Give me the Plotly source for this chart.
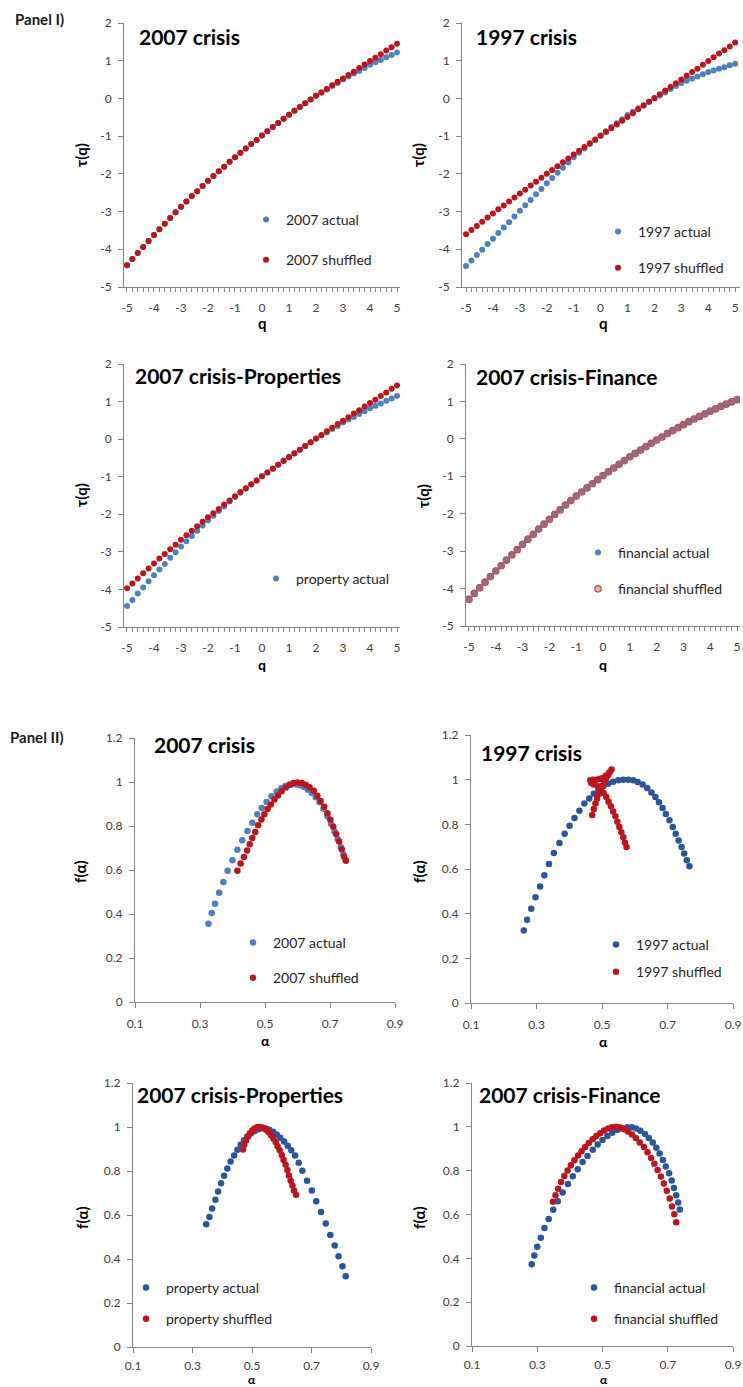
import plotly.graph_objects as go

W, H = 743, 1387

# ---------------- Panel I data: tau(q) ----------------
q = [-5, -4.8, -4.6, -4.4, -4.2, -4, -3.8, -3.6, -3.4, -3.2, -3, -2.8, -2.6, -2.4, -2.2,
     -2, -1.8, -1.6, -1.4, -1.2, -1, -0.8, -0.6, -0.4, -0.2, 0, 0.2, 0.4, 0.6, 0.8,
     1, 1.2, 1.4, 1.6, 1.8, 2, 2.2, 2.4, 2.6, 2.8, 3, 3.2, 3.4, 3.6, 3.8, 4, 4.2, 4.4,
     4.6, 4.8, 5]
q_ticks = [-5, -4, -3, -2, -1, 0, 1, 2, 3, 4, 5]
tau_ticks = [-5, -4, -3, -2, -1, 0, 1, 2]

tau_2007_actual = [-4.42, -4.26, -4.10, -3.94, -3.78, -3.62, -3.47, -3.32, -3.17, -3.02, -2.87,
                   -2.73, -2.59, -2.46, -2.32, -2.18, -2.06, -1.93, -1.81, -1.68, -1.56,
                   -1.44, -1.33, -1.21, -1.10, -0.98, -0.87, -0.76, -0.65, -0.54, -0.43,
                   -0.33, -0.23, -0.13, -0.03, 0.07, 0.16, 0.24, 0.33, 0.41, 0.50,
                   0.58, 0.66, 0.73, 0.81, 0.89, 0.96, 1.02, 1.09, 1.15, 1.22]
tau_2007_shuffled = [-4.42, -4.26, -4.10, -3.94, -3.78, -3.62, -3.47, -3.32, -3.17, -3.02, -2.87,
                     -2.73, -2.59, -2.46, -2.32, -2.18, -2.06, -1.93, -1.81, -1.68, -1.56,
                     -1.44, -1.33, -1.21, -1.10, -0.98, -0.87, -0.76, -0.65, -0.54, -0.43,
                     -0.33, -0.23, -0.13, -0.03, 0.07, 0.16, 0.25, 0.35, 0.44, 0.53,
                     0.62, 0.71, 0.81, 0.90, 0.99, 1.08, 1.17, 1.27, 1.36, 1.45]
tau_1997_actual = [-4.44, -4.30, -4.15, -4.01, -3.86, -3.72, -3.57, -3.42, -3.28, -3.13, -2.98,
                   -2.83, -2.69, -2.54, -2.40, -2.25, -2.11, -1.97, -1.84, -1.70, -1.56,
                   -1.44, -1.33, -1.21, -1.10, -0.98, -0.87, -0.76, -0.66, -0.55, -0.44,
                   -0.35, -0.26, -0.18, -0.09, 0.00, 0.08, 0.16, 0.25, 0.33, 0.41,
                   0.47, 0.53, 0.58, 0.64, 0.70, 0.74, 0.79, 0.83, 0.88, 0.92]
tau_1997_shuffled = [-3.60, -3.49, -3.38, -3.27, -3.16, -3.05, -2.94, -2.84, -2.73, -2.63, -2.52,
                     -2.42, -2.31, -2.21, -2.10, -2.00, -1.90, -1.80, -1.69, -1.59, -1.49,
                     -1.39, -1.29, -1.19, -1.09, -0.99, -0.89, -0.79, -0.69, -0.59, -0.49,
                     -0.39, -0.29, -0.19, -0.09, 0.01, 0.11, 0.21, 0.30, 0.40, 0.50,
                     0.60, 0.70, 0.79, 0.89, 0.99, 1.09, 1.19, 1.28, 1.38, 1.48]
tau_property_actual = [-4.44, -4.28, -4.11, -3.95, -3.78, -3.62, -3.47, -3.32, -3.16, -3.01, -2.86,
                       -2.72, -2.58, -2.44, -2.30, -2.16, -2.04, -1.91, -1.79, -1.66, -1.54,
                       -1.43, -1.32, -1.21, -1.10, -0.99, -0.89, -0.78, -0.68, -0.57, -0.47,
                       -0.37, -0.28, -0.18, -0.09, 0.01, 0.10, 0.18, 0.27, 0.35, 0.44,
                       0.52, 0.59, 0.67, 0.74, 0.82, 0.89, 0.95, 1.02, 1.08, 1.15]
tau_property_shuffled = [-3.97, -3.84, -3.71, -3.57, -3.44, -3.31, -3.18, -3.06, -2.93, -2.81, -2.68,
                         -2.56, -2.44, -2.32, -2.20, -2.08, -1.97, -1.86, -1.74, -1.63, -1.52,
                         -1.41, -1.31, -1.20, -1.10, -0.99, -0.89, -0.79, -0.68, -0.58, -0.48,
                         -0.38, -0.28, -0.18, -0.08, 0.02, 0.11, 0.21, 0.30, 0.40, 0.49,
                         0.58, 0.68, 0.77, 0.87, 0.96, 1.05, 1.15, 1.24, 1.34, 1.43]
tau_financial_actual = [-4.27, -4.12, -3.97, -3.82, -3.67, -3.52, -3.38, -3.24, -3.09, -2.95, -2.81,
                        -2.68, -2.54, -2.41, -2.27, -2.14, -2.02, -1.89, -1.77, -1.64, -1.52,
                        -1.41, -1.30, -1.19, -1.08, -0.97, -0.87, -0.77, -0.67, -0.57, -0.47,
                        -0.38, -0.29, -0.20, -0.11, -0.02, 0.06, 0.14, 0.23, 0.31, 0.39,
                        0.46, 0.53, 0.60, 0.67, 0.74, 0.80, 0.86, 0.92, 0.98, 1.04]
tau_financial_shuffled = [-4.29, -4.13, -3.98, -3.83, -3.68, -3.53, -3.39, -3.24, -3.10, -2.96, -2.82,
                          -2.68, -2.55, -2.41, -2.28, -2.15, -2.02, -1.90, -1.77, -1.65, -1.53,
                          -1.42, -1.31, -1.20, -1.09, -0.98, -0.88, -0.78, -0.68, -0.58, -0.48,
                          -0.39, -0.30, -0.21, -0.12, -0.03, 0.05, 0.14, 0.22, 0.30, 0.38,
                          0.46, 0.53, 0.60, 0.67, 0.74, 0.80, 0.87, 0.93, 0.99, 1.05]

# ---------------- Panel II data: f(alpha) ----------------
alpha_ticks = [0.1, 0.3, 0.5, 0.7, 0.9]
f_ticks = [0, 0.2, 0.4, 0.6, 0.8, 1, 1.2]

a_2007_actual = [0.326, 0.336, 0.346, 0.359, 0.372, 0.385, 0.400, 0.415, 0.430, 0.446, 0.461, 0.476,
                 0.490, 0.505, 0.520, 0.536, 0.550, 0.563, 0.575, 0.585, 0.597, 0.608, 0.620, 0.632,
                 0.644, 0.656, 0.668, 0.680, 0.692, 0.703, 0.714, 0.724, 0.733, 0.741, 0.748]
f_2007_actual = [0.356, 0.405, 0.447, 0.497, 0.545, 0.597, 0.644, 0.692, 0.735, 0.777, 0.815, 0.853,
                 0.882, 0.909, 0.935, 0.957, 0.972, 0.982, 0.988, 0.990, 0.989, 0.985, 0.977, 0.965,
                 0.950, 0.931, 0.908, 0.878, 0.844, 0.810, 0.775, 0.740, 0.705, 0.672, 0.645]
a_2007_shuffled = [0.415, 0.425, 0.435, 0.445, 0.453, 0.461, 0.470, 0.479, 0.489, 0.498, 0.508, 0.518,
                   0.529, 0.540, 0.551, 0.564, 0.576, 0.588, 0.600, 0.613, 0.625, 0.637, 0.650, 0.661,
                   0.671, 0.682, 0.692, 0.701, 0.710, 0.719, 0.728, 0.736, 0.743, 0.749]
f_2007_shuffled = [0.597, 0.629, 0.659, 0.689, 0.717, 0.745, 0.773, 0.803, 0.829, 0.853, 0.877, 0.898,
                   0.920, 0.939, 0.958, 0.975, 0.988, 0.996, 0.998, 0.995, 0.988, 0.976, 0.960, 0.938,
                   0.914, 0.888, 0.858, 0.828, 0.797, 0.764, 0.729, 0.694, 0.661, 0.642]
a_1997_actual = [0.261, 0.271, 0.284, 0.297, 0.311, 0.324, 0.338, 0.353, 0.370, 0.386,
                 0.401, 0.416, 0.431, 0.446, 0.461, 0.475, 0.489, 0.504, 0.519, 0.534,
                 0.550, 0.565, 0.580, 0.595, 0.609, 0.624, 0.638, 0.651, 0.663, 0.674,
                 0.685, 0.695, 0.706, 0.716, 0.725, 0.734, 0.743, 0.751, 0.759, 0.767]
f_1997_actual = [0.325, 0.373, 0.422, 0.473, 0.522, 0.572, 0.622, 0.672, 0.716, 0.758,
                 0.794, 0.828, 0.861, 0.893, 0.916, 0.937, 0.955, 0.970, 0.982, 0.991,
                 0.997, 1.000, 1.000, 0.997, 0.990, 0.978, 0.963, 0.943, 0.922, 0.899,
                 0.873, 0.846, 0.818, 0.788, 0.758, 0.728, 0.699, 0.669, 0.639, 0.612]
a_1997_shuffled = [0.470, 0.475, 0.480, 0.485, 0.490, 0.495, 0.501, 0.507, 0.513, 0.519, 0.524, 0.529,
                   0.521, 0.512, 0.502, 0.492, 0.482, 0.472, 0.464, 0.467, 0.475,
                   0.487, 0.497, 0.505, 0.513, 0.520, 0.527, 0.534, 0.541, 0.547, 0.553, 0.559,
                   0.565, 0.570, 0.575]
f_1997_shuffled = [0.842, 0.869, 0.893, 0.915, 0.936, 0.955, 0.973, 0.990, 1.006, 1.021, 1.034, 1.045,
                   1.030, 1.018, 1.007, 1.003, 1.000, 1.000, 0.997, 0.985, 0.978,
                   0.970, 0.958, 0.940, 0.922, 0.901, 0.881, 0.858, 0.836, 0.812, 0.788, 0.764,
                   0.742, 0.719, 0.699]
a_property_actual = [0.346, 0.357, 0.366, 0.377, 0.386, 0.396, 0.406, 0.417, 0.428, 0.440,
                     0.451, 0.462, 0.473, 0.484, 0.497, 0.509, 0.521, 0.534, 0.546, 0.558,
                     0.571, 0.583, 0.595, 0.608, 0.620, 0.632, 0.645, 0.657, 0.669, 0.685,
                     0.701, 0.716, 0.732, 0.748, 0.763, 0.778, 0.791, 0.804, 0.815]
f_property_actual = [0.558, 0.591, 0.629, 0.669, 0.707, 0.744, 0.778, 0.811, 0.843, 0.871,
                     0.897, 0.919, 0.940, 0.957, 0.972, 0.982, 0.990, 0.994, 0.993, 0.987,
                     0.978, 0.966, 0.951, 0.934, 0.915, 0.894, 0.870, 0.838, 0.801, 0.756,
                     0.711, 0.662, 0.614, 0.561, 0.509, 0.461, 0.412, 0.367, 0.322]
a_property_shuffled = [0.470, 0.474, 0.480, 0.487, 0.493, 0.501, 0.509, 0.517, 0.525, 0.532,
                       0.540, 0.548, 0.556, 0.564, 0.572, 0.580, 0.586, 0.593, 0.600, 0.606,
                       0.613, 0.619, 0.624, 0.630, 0.636, 0.641, 0.648]
f_property_shuffled = [0.898, 0.919, 0.939, 0.957, 0.972, 0.984, 0.993, 0.999, 1.000, 0.999,
                       0.994, 0.987, 0.976, 0.963, 0.948, 0.931, 0.913, 0.894, 0.873, 0.850,
                       0.828, 0.804, 0.780, 0.756, 0.734, 0.711, 0.692]
a_financial_actual = [0.283, 0.291, 0.300, 0.311, 0.322, 0.335, 0.349, 0.363, 0.378, 0.394,
                      0.409, 0.424, 0.439, 0.454, 0.470, 0.485, 0.500, 0.515, 0.530, 0.546,
                      0.561, 0.576, 0.590, 0.603, 0.616, 0.630, 0.642, 0.654, 0.665, 0.675,
                      0.685, 0.694, 0.704, 0.712, 0.719, 0.726, 0.732, 0.737]
f_financial_actual = [0.373, 0.413, 0.453, 0.494, 0.538, 0.580, 0.622, 0.661, 0.700, 0.739,
                      0.774, 0.807, 0.839, 0.867, 0.895, 0.919, 0.940, 0.958, 0.973, 0.985,
                      0.994, 0.998, 0.998, 0.992, 0.982, 0.967, 0.949, 0.928, 0.904, 0.878,
                      0.849, 0.819, 0.788, 0.755, 0.721, 0.688, 0.655, 0.623]
a_financial_shuffled = [0.348, 0.356, 0.364, 0.373, 0.383, 0.393, 0.403, 0.414, 0.425, 0.436,
                        0.447, 0.458, 0.470, 0.481, 0.493, 0.505, 0.517, 0.529, 0.542, 0.554,
                        0.566, 0.578, 0.590, 0.602, 0.614, 0.627, 0.638, 0.649, 0.659, 0.669,
                        0.679, 0.688, 0.697, 0.706, 0.713, 0.720, 0.726]
f_financial_shuffled = [0.658, 0.688, 0.718, 0.748, 0.776, 0.801, 0.825, 0.848, 0.869, 0.889,
                        0.908, 0.926, 0.943, 0.958, 0.971, 0.983, 0.992, 0.998, 1.000, 0.997,
                        0.989, 0.979, 0.965, 0.949, 0.929, 0.908, 0.884, 0.858, 0.831, 0.803,
                        0.773, 0.741, 0.708, 0.673, 0.637, 0.601, 0.565]

# ---------------- styling ----------------
FONT = "Lato, 'Noto Sans', sans-serif"
BLUE_L = "#4F81BD"
BLUE_D = "#2A569C"
RED = "#C0141C"
AXIS = "#868686"
TICKC = "#404040"


def fx(px):
    return px / W


def fy(py):
    return 1 - py / H


# panel geometry in pixels: x-domain, y-domain(top,bottom), x-range, tick standoff
panels = [
    dict(xd=(124, 400), yd=(23, 287), xr=[-5.11, 5.11], kind="q", so=6),
    dict(xd=(462, 740), yd=(23, 287), xr=[-5.15, 5.18], kind="q", so=6),
    dict(xd=(124, 400), yd=(364, 627), xr=[-5.11, 5.11], kind="q", so=6),
    dict(xd=(466, 740), yd=(364, 626), xr=[-5.11, 5.11], kind="q", so=6),
    dict(xd=(135, 395), yd=(738, 1002), xr=[0.1, 0.9], kind="a", so=6),
    dict(xd=(471, 733), yd=(735, 1003), xr=[0.1, 0.9], kind="a", so=6),
    dict(xd=(133, 371), yd=(1083, 1347), xr=[0.1, 0.9], kind="a", so=3),
    dict(xd=(472, 733), yd=(1083, 1346), xr=[0.1, 0.9], kind="a", so=3),
]

series = [
    (0, q, tau_2007_actual, "2007 actual", BLUE_L, True, "solid"),
    (0, q, tau_2007_shuffled, "2007 shuffled", RED, True, "solid"),
    (1, q, tau_1997_actual, "1997 actual", BLUE_L, True, "solid"),
    (1, q, tau_1997_shuffled, "1997 shuffled", RED, True, "solid"),
    (2, q, tau_property_actual, "property actual", BLUE_L, True, "solid"),
    (2, q, tau_property_shuffled, "property shuffled", RED, False, "solid"),
    (3, q, tau_financial_actual, "financial actual", BLUE_L, True, "solid"),
    (3, q, tau_financial_shuffled, "financial shuffled", RED, True, "ring"),
    (4, a_2007_actual, f_2007_actual, "2007 actual", BLUE_L, True, "solid"),
    (4, a_2007_shuffled, f_2007_shuffled, "2007 shuffled", RED, True, "solid"),
    (5, a_1997_actual, f_1997_actual, "1997 actual", BLUE_D, True, "solid"),
    (5, a_1997_shuffled, f_1997_shuffled, "1997 shuffled", RED, True, "solid"),
    (6, a_property_actual, f_property_actual, "property actual", BLUE_D, True, "solid"),
    (6, a_property_shuffled, f_property_shuffled, "property shuffled", RED, True, "solid"),
    (7, a_financial_actual, f_financial_actual, "financial actual", BLUE_D, True, "solid"),
    (7, a_financial_shuffled, f_financial_shuffled, "financial shuffled", RED, True, "solid"),
]

fig = go.Figure()
for i, (p, xs, ys, name, color, show, style) in enumerate(series):
    k = "" if p == 0 else str(p + 1)
    if style == "ring":
        marker = dict(size=6.5, color="rgba(200,90,100,0.45)", line=dict(color="#C0504D", width=1.2))
    else:
        marker = dict(size=6.5 if p >= 4 else 6, color=color, line=dict(width=0))
    fig.add_trace(go.Scatter(
        x=xs, y=ys, mode="markers", name=name, marker=marker,
        xaxis="x" + k, yaxis="y" + k, showlegend=show,
        legend="legend" + k, legendgroup="g%d" % i,
        hoverinfo="skip",
    ))

layout = dict(
    template="none",
    width=W, height=H, autosize=False,
    margin=dict(l=0, r=0, t=0, b=0, pad=0, autoexpand=False),
    paper_bgcolor="white", plot_bgcolor="rgba(0,0,0,0)",
    font=dict(family=FONT, size=12, color=TICKC),
    showlegend=True,
)

for p, g in enumerate(panels):
    k = "" if p == 0 else str(p + 1)
    xa = dict(
        domain=[fx(g["xd"][0]), fx(g["xd"][1])], range=g["xr"], anchor="y" + k,
        showline=True, linecolor=AXIS, linewidth=1, showgrid=False, zeroline=False,
        ticks="outside", ticklen=4, tickcolor=AXIS, tickwidth=1,
        tickfont=dict(size=12, color=TICKC, family=FONT),
        ticklabelstandoff=g["so"], ticklabeloverflow="allow",
        automargin=False, fixedrange=True,
    )
    ya = dict(
        domain=[fy(g["yd"][1]), fy(g["yd"][0])], anchor="x" + k,
        showline=True, linecolor=AXIS, linewidth=1, showgrid=False, zeroline=False,
        ticks="outside", ticklen=5, tickcolor=AXIS, tickwidth=1,
        tickfont=dict(size=12, color=TICKC, family=FONT),
        ticklabelstandoff=4, automargin=False, fixedrange=True,
    )
    if g["kind"] == "q":
        xa.update(tickmode="array", tickvals=q_ticks, ticktext=[str(v) for v in q_ticks],
                  minor=dict(dtick=0.2, tick0=-5, ticks="outside", ticklen=4, tickcolor=AXIS))
        ya.update(range=[-5, 2], tickmode="array", tickvals=tau_ticks, ticktext=[str(v) for v in tau_ticks])
    else:
        xa.update(tickmode="array", tickvals=alpha_ticks, ticktext=["%.1f" % v for v in alpha_ticks],
                  ticklen=5)
        ya.update(range=[0, 1.2], tickmode="array", tickvals=f_ticks,
                  ticktext=[("%g" % v) for v in f_ticks])
    layout["xaxis" + k] = xa
    layout["yaxis" + k] = ya

# legends: (text-left px, first item center px, gap px)
legend_pos = [
    (288, 219, 39), (640, 231, 35), (298, 578, 35), (620, 552, 35),
    (275, 942, 34), (638, 944, 26), (168, 1287, 30), (616, 1287, 30),
]
for p, (tx, ty, gap) in enumerate(legend_pos):
    k = "" if p == 0 else str(p + 1)
    layout["legend" + k] = dict(
        x=fx(tx - 42), y=fy(ty - 15), xanchor="left", yanchor="top",
        bgcolor="rgba(0,0,0,0)", borderwidth=0, itemwidth=30,
        font=dict(family=FONT, size=14, color="#262626"),
        tracegroupgap=max(gap - 20, 0), itemclick=False, itemdoubleclick=False,
    )

ann = []
titles = [
    ("2007 crisis", 137, 37), ("1997 crisis", 474, 37),
    ("2007 crisis-Properties", 133, 375), ("2007 crisis-Finance", 474, 376),
    ("2007 crisis", 152, 744), ("1997 crisis", 479, 752),
    ("2007 crisis-Properties", 135, 1094), ("2007 crisis-Finance", 477, 1094),
]
for t, x, y in titles:
    ann.append(dict(text="<b>%s</b>" % t, x=fx(x), y=fy(y), xref="paper", yref="paper",
                    xanchor="left", yanchor="middle", showarrow=False,
                    font=dict(family=FONT, size=21, color="black")))

for t, x, y in [("Panel I)", 13, 19), ("Panel II)", 8, 737)]:
    ann.append(dict(text="<b>%s</b>" % t, x=fx(x), y=fy(y), xref="paper", yref="paper",
                    xanchor="left", yanchor="middle", showarrow=False,
                    font=dict(family=FONT, size=15, color="#1a1a1a")))

ylabels = [("τ(q)", 81, 155), ("τ(q)", 418, 155), ("τ(q)", 81, 495), ("τ(q)", 423, 496),
           ("f(α)", 80, 872), ("f(α)", 419, 872), ("f(α)", 82, 1218), ("f(α)", 419, 1218)]
for t, x, y in ylabels:
    ann.append(dict(text="<b>%s</b>" % t, x=fx(x), y=fy(y), xref="paper", yref="paper",
                    xanchor="center", yanchor="middle", showarrow=False, textangle=-90,
                    font=dict(family=FONT, size=15, color="black")))

xlabels = [("q", 262, 323, 15), ("q", 603, 323, 15), ("q", 262, 664, 14), ("q", 603, 664, 14),
           ("α", 265, 1040, 14), ("α", 603, 1041, 14), ("α", 252, 1379, 12), ("α", 604, 1379, 12)]
for t, x, y, s in xlabels:
    ann.append(dict(text="<b>%s</b>" % t, x=fx(x), y=fy(y), xref="paper", yref="paper",
                    xanchor="center", yanchor="middle", showarrow=False,
                    font=dict(family=FONT, size=s, color="black")))

layout["annotations"] = ann
fig.update_layout(**layout)
fig.write_html("out.html",
               config={"displayModeBar": False, "staticPlot": False},
               post_script="document.body.style.margin='0px';document.body.style.padding='0px';")
